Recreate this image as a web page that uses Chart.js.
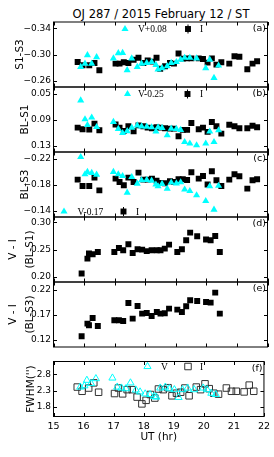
<!DOCTYPE html>
<html>
<head>
<meta charset="utf-8">
<script src="https://cdn.jsdelivr.net/npm/chart.js@4.4.1/dist/chart.umd.min.js"></script>
<style>
html, body { margin: 0; padding: 0; background: #fff; }
#wrap { position: relative; width: 274px; height: 457px; overflow: hidden; }
#wrap canvas { position: absolute; left: 0; top: 0; }
#title { position: absolute; left: 41px; width: 240px; top: 7px; text-align: center;
  font: 11.5px "DejaVu Sans", sans-serif; color: #000; white-space: nowrap; }
</style>
</head>
<body>
<div id="wrap">
  <div id="title">OJ 287 / 2015 February 12 / ST</div>
  <canvas id="pa" width="274" height="457"></canvas>
  <canvas id="pb" width="274" height="457"></canvas>
  <canvas id="pc" width="274" height="457"></canvas>
  <canvas id="pd" width="274" height="457"></canvas>
  <canvas id="pe" width="274" height="457"></canvas>
  <canvas id="pf" width="274" height="457"></canvas>
</div>
<script>
// UT (hr) of the V frames
var utV = [15.89, 16.03, 16.11, 16.25, 16.41, 16.96, 17.12, 17.26, 17.41, 17.56, 17.74, 17.88, 18.05, 18.21,
  18.35, 18.42, 18.55, 18.72, 18.85, 19.02, 19.16, 19.29, 19.46, 19.68, 19.98, 20.11, 20.25, 20.40];
var s13V = [-0.281, -0.286, -0.299, -0.286, -0.296, -0.294, -0.302, -0.3025, -0.276, -0.294, -0.281, -0.286, -0.287, -0.2885,
  -0.284, -0.277, -0.279, -0.282, -0.287, -0.2885, -0.292, -0.295, -0.295, -0.294, -0.279, -0.292, -0.264, -0.283];
var bl1V = [0.0605, 0.0897, 0.0985, 0.087, 0.1015, 0.0938, 0.1045, 0.1108, 0.108, 0.1025, 0.099, 0.1005, 0.101, 0.102,
  0.1085, 0.102, 0.103, 0.1143, 0.104, 0.1045, 0.106, 0.1246, 0.127, 0.1297, 0.127, 0.1085, 0.1246, 0.1066];
var bl3V = [-0.2223, -0.1957, -0.1993, -0.1978, -0.1952, -0.1993, -0.1957, -0.193, -0.1675, -0.1915, -0.1813, -0.1865, -0.187, -0.186,
  -0.18, -0.1772, -0.181, -0.1737, -0.183, -0.1818, -0.1834, -0.1722, -0.17, -0.1634, -0.1546, -0.1772, -0.1414, -0.178];
var fwV = [2.41, 2.45, 2.62, 2.52, 2.67, 2.69, 2.41, 2.38, 2.36, 2.54, 2.32, 2.26, 2.20, 2.18,
  2.12, 2.10, 2.38, 2.41, 2.36, 2.33, 2.09, 2.33, 2.38, 2.33, 2.38, 2.33, 2.22, 2.18];

// UT (hr) of the I frames
var utI = [15.79, 15.95, 16.17, 16.34, 16.50, 17.03, 17.16, 17.30, 17.45, 17.62, 17.78, 17.94, 18.08, 18.22, 18.37,
  18.49, 18.65, 18.81, 18.94, 19.09, 19.23, 19.37, 19.51, 19.75, 19.89, 20.04, 20.18, 20.33, 20.49, 20.75,
  20.92, 21.08, 21.34, 21.51, 21.66];
var s13I = [-0.2885, -0.2834, -0.2834, -0.287, -0.2757, -0.286, -0.286, -0.288, -0.287, -0.292, -0.295, -0.287, -0.291, -0.289, -0.295,
  -0.278, -0.282, -0.287, -0.286, -0.3014, -0.2937, -0.294, -0.294, -0.294, -0.293, -0.2875, -0.294, -0.2844, -0.288, -0.286,
  -0.2972, -0.2965, -0.2772, -0.286, -0.2895];
var bl1I = [0.1025, 0.105, 0.1055, 0.0963, 0.1066, 0.0978, 0.1025, 0.1075, 0.1005, 0.108, 0.099, 0.1005, 0.1025, 0.1035, 0.102,
  0.1025, 0.1035, 0.104, 0.104, 0.1158, 0.106, 0.106, 0.0954, 0.105, 0.1025, 0.109, 0.0938, 0.1005, 0.1117, 0.098,
  0.1005, 0.1035, 0.1035, 0.0995, 0.102];
var bl3I = [-0.1875, -0.1777, -0.1777, -0.1906, -0.171, -0.189, -0.1838, -0.1788, -0.1906, -0.1838, -0.1983, -0.1875, -0.1875, -0.189, -0.186,
  -0.1823, -0.182, -0.1849, -0.184, -0.188, -0.188, -0.187, -0.1988, -0.189, -0.193, -0.18, -0.2003, -0.1865, -0.1777, -0.1875,
  -0.1957, -0.1926, -0.1737, -0.1865, -0.188];
var fwI = [2.41, 2.28, 2.38, 2.54, 2.25, 2.21, 2.38, 2.20, 2.33, 2.33, 2.10, 1.89, 2.00, 2.18, 2.07,
  2.35, 2.33, 2.39, 2.14, 2.22, 2.25, 2.38, 2.14, 2.41, 2.33, 2.51, 2.36, 2.22, 2.19, 2.38,
  2.28, 2.28, 2.26, 2.47, 2.28];

// colour index V - I
var utVI = [15.92, 16.11, 16.16, 16.28, 16.45, 16.99, 17.14, 17.28, 17.45, 17.59, 17.75, 17.90, 18.05, 18.21,
  18.38, 18.50, 18.64, 18.78, 19.05, 19.20, 19.34, 19.47, 19.70, 19.99, 20.14, 20.29, 20.44];
var vi1 = [0.2056, 0.2332, 0.2425, 0.2412, 0.2454, 0.2454, 0.2528, 0.2486, 0.2596, 0.2436, 0.2504, 0.2498, 0.247, 0.2486,
  0.2486, 0.2486, 0.2516, 0.259, 0.2454, 0.2504, 0.267, 0.2812, 0.2744, 0.2683, 0.267, 0.2749, 0.2454];
var vi3 = [0.1264, 0.1518, 0.1484, 0.163, 0.147, 0.1584, 0.1584, 0.157, 0.193, 0.1618, 0.187, 0.1718, 0.173, 0.167,
  0.175, 0.1718, 0.1724, 0.1818, 0.1798, 0.175, 0.1864, 0.1984, 0.197, 0.195, 0.1938, 0.2138, 0.1718];

var xTicks = [15, 16, 17, 18, 19, 20, 21, 22];

var CYAN = '#00ffff';
var FONT = '"DejaVu Sans", sans-serif';

function pts(xs, ys) {
  return xs.map(function(x, i) { return {x: x, y: ys[i]}; });
}

function fmt(d) {
  return function(v) { return (v < 0 ? '\u2212' : '') + Math.abs(v).toFixed(d); };
}

// frame with inward ticks on all sides, panel tag and the little legends
var frame = {
  id: 'frame',
  afterDraw: function(chart, args, o) {
    var ctx = chart.ctx, a = chart.chartArea, sx = chart.scales.x, sy = chart.scales.y;
    var t = 3.5;
    ctx.save();
    ctx.strokeStyle = '#000';
    ctx.lineWidth = 1;
    ctx.strokeRect(a.left, a.top, a.right - a.left, a.bottom - a.top);
    ctx.beginPath();
    xTicks.forEach(function(v) {
      var px = Math.round(sx.getPixelForValue(v)) + 0.5;
      ctx.moveTo(px, a.bottom); ctx.lineTo(px, a.bottom - t);
      ctx.moveTo(px, a.top); ctx.lineTo(px, a.top + t);
    });
    o.yt.forEach(function(v) {
      var py = Math.round(sy.getPixelForValue(v)) + 0.5;
      ctx.moveTo(a.left, py); ctx.lineTo(a.left + t, py);
      ctx.moveTo(a.right, py); ctx.lineTo(a.right - t, py);
    });
    ctx.stroke();

    ctx.fillStyle = '#000';
    ctx.font = '9.5px ' + FONT;
    ctx.textAlign = 'right';
    ctx.textBaseline = 'middle';
    ctx.fillText(o.tag, a.right - 1.5, a.top + 7);

    (o.keys || []).forEach(function(k) {
      ctx.fillStyle = k.fill;
      ctx.strokeStyle = k.line;
      if (k.bar) {
        ctx.lineWidth = 1;
        ctx.beginPath();
        ctx.moveTo(k.x, k.y - 4.5); ctx.lineTo(k.x, k.y + 4.5);
        ctx.stroke();
      }
      Chart.helpers.drawPoint(ctx, {pointStyle: k.style, radius: k.r, rotation: 0, borderWidth: k.bw}, k.x, k.y);
      ctx.fillStyle = '#000';
      ctx.font = '9.5px "Liberation Serif", serif';
      ctx.textAlign = 'left';
      ctx.fillText(k.text, k.tx, k.y + 0.5);
    });
    ctx.restore();
  }
};

function vSet(xs, ys, open) {
  return {data: pts(xs, ys), pointStyle: 'triangle', pointRadius: 4.1,
    pointBackgroundColor: open ? 'rgba(0,0,0,0)' : CYAN, pointBorderColor: CYAN,
    pointBorderWidth: open ? 1 : 0, showLine: false};
}
function iSet(xs, ys, open) {
  return {data: pts(xs, ys), pointStyle: 'rect', pointRadius: open ? 4.6 : 4.2,
    pointBackgroundColor: open ? 'rgba(0,0,0,0)' : '#000', pointBorderColor: open ? '#333' : '#000',
    pointBorderWidth: open ? 1 : 0, showLine: false};
}

function panel(id, p) {
  var last = !!p.showX;
  new Chart(document.getElementById(id), {
    type: 'scatter',
    data: {datasets: p.sets},
    options: {
      animation: false,
      responsive: false,
      events: [],
      layout: {padding: {top: p.top, bottom: last ? 457 - p.bottom - 40 : 457 - p.bottom, left: 0, right: 6.5}},
      plugins: {
        legend: {display: false},
        tooltip: {enabled: false},
        frame: {tag: p.tag, keys: p.keys, yt: p.yt}
      },
      scales: {
        x: {
          type: 'linear', min: 15, max: 22,
          display: last,
          afterBuildTicks: function(s) { s.ticks = xTicks.map(function(v) { return {value: v}; }); },
          afterFit: function(s) { s.height = last ? 40 : 0; },
          grid: {display: false, drawTicks: false},
          border: {display: false},
          ticks: {color: '#000', font: {family: FONT, size: 9.5}, padding: 4, maxRotation: 0},
          title: {display: last, text: 'UT (hr)', color: '#000', font: {family: FONT, size: 10.5}, padding: {top: 0, bottom: 13}}
        },
        y: {
          type: 'linear', min: p.min, max: p.max, reverse: !!p.rev,
          afterBuildTicks: function(s) { s.ticks = p.yt.map(function(v) { return {value: v}; }); },
          afterFit: function(s) { s.width = 53.5; },
          grid: {display: false, drawTicks: false},
          border: {display: false},
          ticks: {color: '#000', font: {family: FONT, size: 9}, padding: 2.5, callback: fmt(p.dec)},
          title: {display: true, text: p.label, color: '#000',
            font: {family: FONT, size: 10.5, lineHeight: p.lh || 1.2}, padding: {top: p.tpad, bottom: 0}}
        }
      }
    },
    plugins: [frame]
  });
}

panel('pa', {top: 22, bottom: 87, min: -0.35, max: -0.25, rev: true, yt: [-0.34, -0.30, -0.26], dec: 2,
  label: 'S1-S3', tpad: 14, tag: '(a)',
  sets: [vSet(utV, s13V), iSet(utI, s13I)],
  keys: [
    {style: 'triangle', fill: CYAN, line: CYAN, r: 4.1, bw: 0, x: 125, y: 29, text: 'V+0.08', tx: 138},
    {style: 'rect', fill: '#000', line: '#000', r: 4.2, bw: 0, bar: true, x: 188, y: 29, text: 'I', tx: 200}
  ]});

panel('pb', {top: 87, bottom: 152, min: 0.04, max: 0.14, rev: true, yt: [0.05, 0.09, 0.13], dec: 2,
  label: 'BL-S1', tpad: 18.5, tag: '(b)',
  sets: [vSet(utV, bl1V), iSet(utI, bl1I)],
  keys: [
    {style: 'triangle', fill: CYAN, line: CYAN, r: 4.1, bw: 0, x: 127.5, y: 94, text: 'V-0.25', tx: 138},
    {style: 'rect', fill: '#000', line: '#000', r: 4.2, bw: 0, bar: true, x: 187.5, y: 94, text: 'I', tx: 200}
  ]});

panel('pc', {top: 152, bottom: 217, min: -0.23, max: -0.13, rev: true, yt: [-0.22, -0.18, -0.14], dec: 2,
  label: 'BL-S3', tpad: 18.5, tag: '(c)',
  sets: [vSet(utV, bl3V), iSet(utI, bl3I)],
  keys: [
    {style: 'triangle', fill: CYAN, line: CYAN, r: 4.1, bw: 0, x: 64, y: 211.5, text: 'V-0.17', tx: 77.5},
    {style: 'rect', fill: '#000', line: '#000', r: 4.2, bw: 0, bar: true, x: 123.5, y: 211.5, text: 'I', tx: 136}
  ]});

panel('pd', {top: 217, bottom: 282, min: 0.19, max: 0.31, yt: [0.20, 0.25, 0.30], dec: 2,
  label: ['V - I', '(BL-S1)'], lh: 1.62, tpad: 4.5, tag: '(d)',
  sets: [iSet(utVI, vi1)]});

panel('pe', {top: 282, bottom: 347, min: 0.105, max: 0.235, yt: [0.12, 0.17, 0.22], dec: 2,
  label: ['V - I', '(BL-S3)'], lh: 1.62, tpad: 4.5, tag: '(e)',
  sets: [iSet(utVI, vi3)]});

panel('pf', {top: 361.5, bottom: 416.5, min: 1.5, max: 3.2, yt: [1.8, 2.3, 2.8], dec: 1,
  label: "FWHM('')", tpad: 24.5, tag: '(f)', showX: true,
  sets: [vSet(utV, fwV, true), iSet(utI, fwI, true)],
  keys: [
    {style: 'triangle', fill: 'rgba(0,0,0,0)', line: CYAN, r: 4.1, bw: 1, x: 147.5, y: 366.5, text: 'V', tx: 161},
    {style: 'rect', fill: 'rgba(0,0,0,0)', line: '#333', r: 4.6, bw: 1, x: 188, y: 366.5, text: 'I', tx: 200}
  ]});
</script>
</body>
</html>
